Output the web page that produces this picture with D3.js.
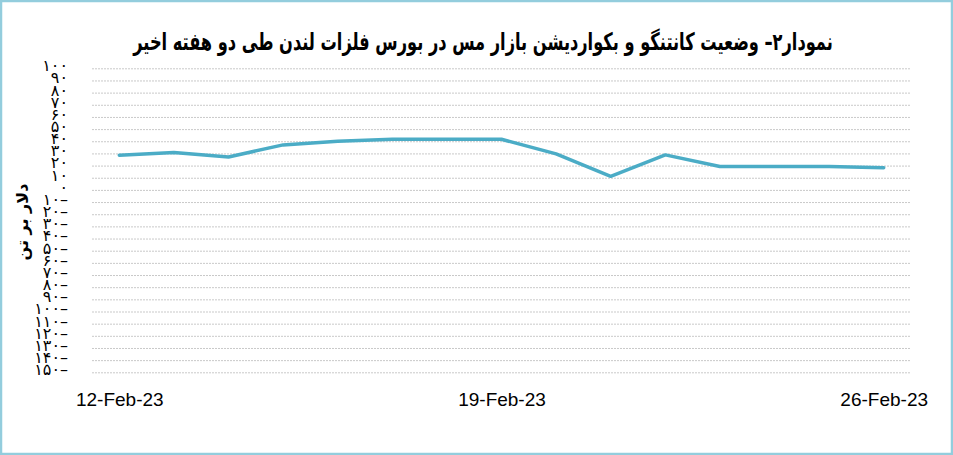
<!DOCTYPE html>
<html>
<head>
<meta charset="utf-8">
<script src="https://cdn.jsdelivr.net/npm/d3@7"></script>
<style>
  html, body { margin: 0; padding: 0; background: #fff; }
  svg { display: block; }
</style>
</head>
<body>
<svg id="chart" width="953" height="455"></svg>
<script>
// ---- data ----
const titleText = "نمودار۲– وضعیت کانتنگو و بکواردیشن بازار مس در بورس فلزات لندن طی دو هفته اخیر";
const yAxisTitle = "دلار بر تن";
const dates = ["2023-02-12","2023-02-13","2023-02-14","2023-02-15","2023-02-16","2023-02-17","2023-02-18",
               "2023-02-19","2023-02-20","2023-02-21","2023-02-22","2023-02-23","2023-02-24","2023-02-25","2023-02-26"];
const values = [28.5, 30.7, 27.1, 37, 40, 41.6, 41.6, 41.6, 29.6, 11.2, 28.8, 19.2, 19.2, 19.2, 18.3];
const xTickDates = ["2023-02-12","2023-02-19","2023-02-26"];
const xTickLabels = ["12-Feb-23","19-Feb-23","26-Feb-23"];
const yTicks = [100,90,80,70,60,50,40,30,20,10,0,-10,-20,-30,-40,-50,-60,-70,-80,-90,-100,-110,-120,-130,-140,-150];

// ---- layout ----
const W = 953, H = 455;
const plot = { left: 92, right: 911, top: 68.3, bottom: 372.3 };
const svg = d3.select("#chart");

// border
svg.append("rect").attr("x", 1).attr("y", 1).attr("width", W - 2).attr("height", H - 2)
  .attr("fill", "#fff").attr("stroke", "#93cddd").attr("stroke-width", 2.5);

// title (scaled horizontally to the reference width)
const title = svg.append("text")
  .attr("text-anchor", "middle")
  .attr("direction", "rtl")
  .attr("font-family", "DejaVu Sans")
  .attr("font-weight", "bold")
  .attr("font-size", 24)
  .attr("fill", "#000")
  .text(titleText);
const tw = title.node().getComputedTextLength() || 700;
title.attr("transform", `translate(483,50) scale(${700 / tw},1)`);

// scales
const x = d3.scalePoint().domain(dates).range([plot.left, plot.right]).padding(0.5);
const y = d3.scaleLinear().domain([-150, 100]).range([plot.bottom, plot.top]);

// gridlines
const grid = svg.append("g").attr("transform", `translate(${plot.left},0)`)
  .call(d3.axisLeft(y).tickValues(yTicks).tickSize(-(plot.right - plot.left)).tickFormat(""));
grid.select(".domain").remove();
grid.selectAll("line").attr("stroke", "#c9c9c9").attr("stroke-width", 1).attr("stroke-dasharray", "2,1");

// y labels (Persian digits)
const faDigits = "۰۱۲۳۴۵۶۷۸۹";
const toFa = n => String(Math.abs(n)).replace(/\d/g, d => faDigits[+d]);
const fmt = v => v < 0 ? toFa(v) + "–" : toFa(v);
const yAx = svg.append("g").attr("transform", "translate(68,0)")
  .call(d3.axisLeft(y).tickValues(yTicks).tickSize(0).tickPadding(0).tickFormat(fmt));
yAx.select(".domain").remove();
yAx.selectAll("text")
  .attr("font-family", "DejaVu Sans")
  .attr("font-size", 16)
  .attr("fill", "#000")
  .attr("dy", "0.15em")
  .style("direction", "ltr")
  .style("unicode-bidi", "bidi-override");

// y axis title
svg.append("text")
  .attr("transform", "translate(28,222) rotate(-90)")
  .attr("text-anchor", "middle")
  .attr("direction", "rtl")
  .attr("font-family", "DejaVu Sans")
  .attr("font-weight", "bold")
  .attr("font-size", 16)
  .attr("fill", "#000")
  .text(yAxisTitle);

// x axis labels
const xAx = svg.append("g").attr("transform", `translate(0,${plot.bottom})`)
  .call(d3.axisBottom(x).tickValues(xTickDates).tickSize(0).tickPadding(20)
    .tickFormat(d => xTickLabels[xTickDates.indexOf(d)]));
xAx.select(".domain").remove();
xAx.selectAll("text")
  .attr("font-family", "Liberation Sans")
  .attr("font-size", 19)
  .attr("fill", "#000");

// line
const line = d3.line().x((d, i) => x(dates[i])).y(d => y(d));
svg.append("path")
  .datum(values)
  .attr("d", line)
  .attr("fill", "none")
  .attr("stroke", "#4bacc6")
  .attr("stroke-width", 3.5)
  .attr("stroke-linejoin", "round")
  .attr("stroke-linecap", "round");
</script>
</body>
</html>
